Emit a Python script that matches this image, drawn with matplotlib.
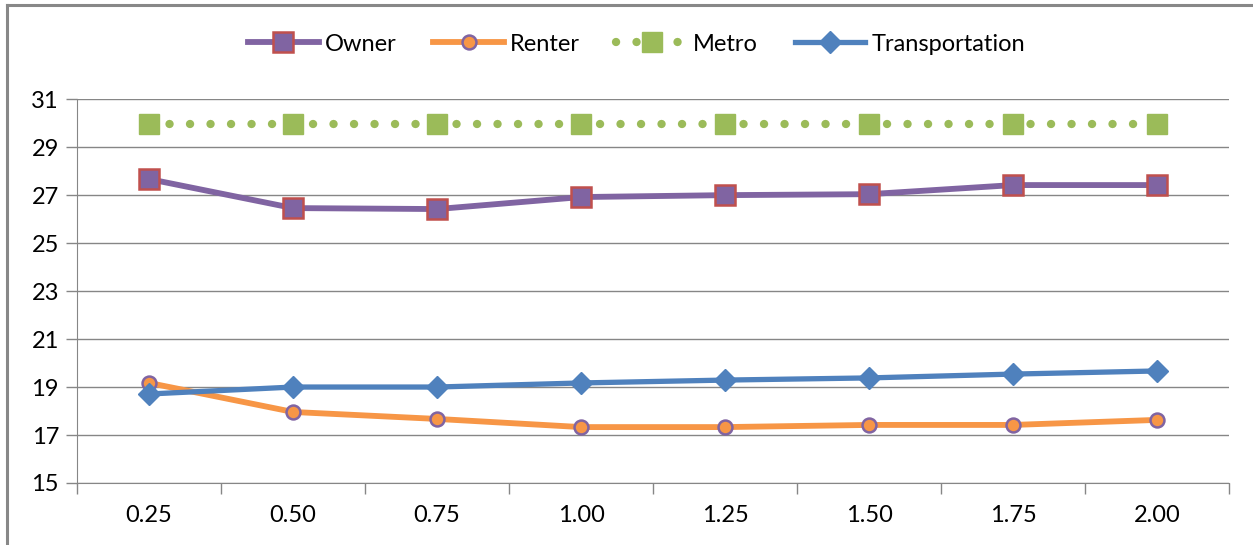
import numpy as np
import matplotlib.pyplot as plt
from matplotlib.lines import Line2D

# categorías y series
categorias = ["0.25", "0.50", "0.75", "1.00", "1.25", "1.50", "1.75", "2.00"]
owner = [27.67, 26.46, 26.42, 26.92, 27.00, 27.04, 27.42, 27.42]
renter = [19.17, 17.96, 17.67, 17.33, 17.33, 17.42, 17.42, 17.63]
metro = [29.96, 29.96, 29.96, 29.96, 29.96, 29.96, 29.96, 29.96]
transportation = [18.71, 19.00, 19.00, 19.17, 19.29, 19.38, 19.54, 19.67]

plt.rcParams['font.family'] = ['Lato', 'DejaVu Sans']

fig = plt.figure(figsize=(12.53, 5.45), dpi=100)
ax = fig.add_axes([0.0615, 0.1138, 0.9195, 0.7042])

x = np.arange(len(categorias))
grid_col = "#868686"

ax.plot(x, owner, color="#8064A2", lw=4.2, marker="s", markersize=14,
        markerfacecolor="#8064A2", markeredgecolor="#C0504D", markeredgewidth=1.8,
        label="Owner", zorder=3)
ax.plot(x, renter, color="#F79646", lw=4.2, marker="o", markersize=10,
        markerfacecolor="#F79646", markeredgecolor="#8064A2", markeredgewidth=1.8,
        label="Renter", zorder=3)
ax.plot(x, metro, color="#9BBB59", lw=6, linestyle=(0, (0.01, 2.45)),
        dash_capstyle="round", marker="s", markersize=14,
        markerfacecolor="#9BBB59", markeredgecolor="#9BBB59",
        label="Metro", zorder=3)
ax.plot(x, transportation, color="#4F81BD", lw=3.8, marker="D", markersize=11,
        markerfacecolor="#4F81BD", markeredgecolor="#4F81BD",
        label="Transportation", zorder=4)

ax.set_xlim(-0.5, len(categorias) - 0.5)
ax.set_ylim(15, 31)
ax.set_yticks(np.arange(15, 32, 2))
ax.set_xticks(x)
ax.set_xticklabels(categorias)
ax.set_xticks(np.arange(-0.5, len(categorias)), minor=True)
ax.tick_params(axis="x", which="major", length=0, pad=16, labelsize=17)
ax.tick_params(axis="x", which="minor", length=8, color=grid_col, width=1)
ax.tick_params(axis="y", length=8, color=grid_col, width=1, labelsize=17, pad=5)

ax.grid(axis="y", color=grid_col, lw=1)
ax.set_axisbelow(True)
for s in ["top", "right"]:
    ax.spines[s].set_visible(False)
ax.spines["left"].set_color(grid_col)
ax.spines["bottom"].set_color(grid_col)

leg = fig.legend(loc="center", bbox_to_anchor=(0.508, 0.919), ncol=4, frameon=False,
                 fontsize=17, handlelength=3.0, columnspacing=1.55, handletextpad=0.25)

# marco del gráfico
fig.add_artist(Line2D([7 / 1253, 1], [1 - 5 / 545, 1 - 5 / 545], color="#888888", lw=2.2))
fig.add_artist(Line2D([7 / 1253, 7 / 1253], [0, 1 - 5 / 545], color="#888888", lw=2.2))

fig.savefig("out.png", dpi=100)
